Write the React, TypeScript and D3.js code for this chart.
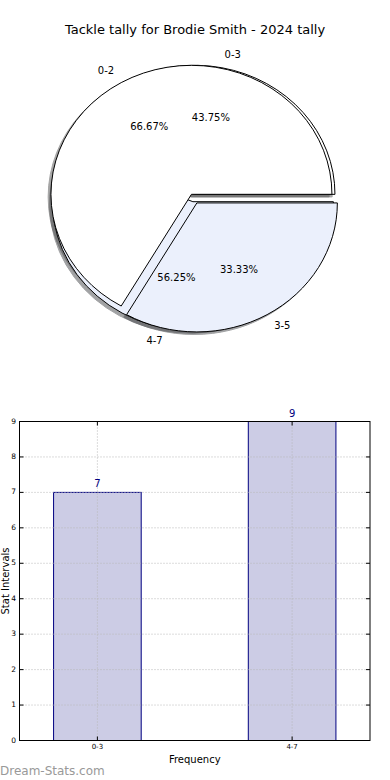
import React from "react";
import * as d3 from "d3";

const title = "Tackle tally for Brodie Smith - 2024 tally";
const pieALabels = ["0-2", "3-5"];
const pieAValues = [66.67, 33.33];
const pieBLabels = ["0-3", "4-7"];
const pieBValues = [43.75, 56.25];
const barCategories = ["0-3", "4-7"];
const barValues = [7, 9];
const yTickValues = [0, 1, 2, 3, 4, 5, 6, 7, 8, 9];
const xAxisLabel = "Frequency";
const yAxisLabel = "Stat Intervals";
const watermark = "Dream-Stats.com";

const pieColors = ["#ffffff", "#ebf0fc"];
const shadowColors = ["#4d4d4d", "#46484c"];
const explodeA = [0.032, 0.045];
const explodeB = [0.028, 0.03];

const FONT = "DejaVu Sans, Liberation Sans, sans-serif";

const W = 390;
const H = 780;
const pieCx = 193.7;
const pieCy = 197.9;
const rx = 140.5;
const ry = 129;

type Wedge = {
  key: string;
  label: string;
  pct: string;
  path: string;
  cx: number;
  cy: number;
  lx: number;
  ly: number;
  anchor: string;
  px: number;
  py: number;
  fill: string;
  shadow: string;
};

function buildWedges(labels: string[], values: number[], explode: number[], tag: string): Wedge[] {
  const total = d3.sum(values);
  const pie = d3
    .pie<number>()
    .sort(null)
    .value((d) => d)
    .startAngle(Math.PI / 2)
    .endAngle(Math.PI / 2 - 2 * Math.PI);
  const arcs = pie(values);
  const arcGen = d3.arc<d3.PieArcDatum<number>>().innerRadius(0).outerRadius(1);
  return arcs.map((a, i) => {
    const mid = (a.startAngle + a.endAngle) / 2;
    const dx = Math.sin(mid);
    const dy = -Math.cos(mid);
    const cx = pieCx + explode[i] * rx * dx;
    const cy = pieCy + explode[i] * ry * dy;
    return {
      key: tag + i,
      label: labels[i],
      pct: ((values[i] / total) * 100).toFixed(2) + "%",
      path: arcGen(a) || "",
      cx,
      cy,
      lx: cx + 1.1 * rx * dx,
      ly: cy + 1.1 * ry * dy,
      anchor: dx > 0 ? "start" : "end",
      px: cx + 0.6 * rx * dx,
      py: cy + 0.6 * ry * dy,
      fill: pieColors[i % pieColors.length],
      shadow: shadowColors[i % shadowColors.length],
    };
  });
}

export default function App() {
  const wedgesB = buildWedges(pieBLabels, pieBValues, explodeB, "b");
  const wedgesA = buildWedges(pieALabels, pieAValues, explodeA, "a");
  const all = [...wedgesB, ...wedgesA];

  // bar chart
  const left = 19.5;
  const right = 370;
  const top = 421.5;
  const bottom = 740.5;
  const x = d3.scaleLinear().domain([-0.4, 1.4]).range([left, right]);
  const y = d3.scaleLinear().domain([0, 9]).range([bottom, top]);
  const barW = 0.45;

  return (
    <svg
      width={W}
      height={H}
      viewBox={`0 0 ${W} ${H}`}
      style={{ position: "absolute", left: 0, top: 0, background: "#fff" }}
      fontFamily={FONT}
    >
      <rect x={0} y={0} width={W} height={H} fill="#fff" />
      <text x={195} y={30} textAnchor="middle" dominantBaseline="middle" fontSize={13} fill="#000">
        {title}
      </text>

      {/* shadows */}
      {all.map((w) => (
        <path
          key={"s" + w.key}
          d={w.path}
          transform={`translate(${w.cx - 0.02 * rx},${w.cy + 0.02 * ry}) scale(${rx},${ry})`}
          fill={w.shadow}
          stroke={w.shadow}
          strokeWidth={1}
          vectorEffect="non-scaling-stroke"
          opacity={0.5}
        />
      ))}
      {/* wedges */}
      {all.map((w) => (
        <path
          key={"w" + w.key}
          d={w.path}
          transform={`translate(${w.cx},${w.cy}) scale(${rx},${ry})`}
          fill={w.fill}
          stroke="#000"
          strokeWidth={1}
          strokeLinejoin="miter"
          vectorEffect="non-scaling-stroke"
        />
      ))}
      {all.map((w) => (
        <g key={"t" + w.key} fontSize={10} fill="#000">
          <text x={w.lx} y={w.ly} textAnchor={w.anchor} dominantBaseline="middle">
            {w.label}
          </text>
          <text x={w.px} y={w.py} textAnchor="middle" dominantBaseline="middle">
            {w.pct}
          </text>
        </g>
      ))}

      {/* bars */}
      {barValues.map((v, i) => (
        <rect
          key={"bar" + i}
          x={x(i - barW / 2)}
          y={y(v)}
          width={x(i + barW / 2) - x(i - barW / 2)}
          height={y(0) - y(v)}
          fill="#ccccE5"
          stroke="#000080"
          strokeWidth={1}
        />
      ))}
      {/* grid */}
      {yTickValues.map((t) => (
        <line
          key={"gy" + t}
          x1={left}
          x2={right}
          y1={y(t)}
          y2={y(t)}
          stroke="#b8b8b8"
          strokeWidth={1}
          strokeDasharray="1,2"
        />
      ))}
      {barCategories.map((c, i) => (
        <line
          key={"gx" + c}
          x1={x(i)}
          x2={x(i)}
          y1={top}
          y2={bottom}
          stroke="#b8b8b8"
          strokeWidth={1}
          strokeDasharray="1,2"
        />
      ))}
      {/* value labels */}
      {barValues.map((v, i) => (
        <text key={"vl" + i} x={x(i)} y={y(v) - 5} textAnchor="middle" fontSize={10} fill="#000080">
          {v}
        </text>
      ))}
      {/* frame */}
      <rect x={left} y={top} width={right - left} height={bottom - top} fill="none" stroke="#000" strokeWidth={1} />
      {/* ticks */}
      {yTickValues.map((t) => (
        <g key={"ty" + t}>
          <line x1={left} x2={left + 4} y1={y(t)} y2={y(t)} stroke="#000" />
          <line x1={right} x2={right - 4} y1={y(t)} y2={y(t)} stroke="#000" />
          <text x={16} y={y(t)} textAnchor="end" dominantBaseline="middle" fontSize={7.5} fill="#000">
            {t}
          </text>
        </g>
      ))}
      {barCategories.map((c, i) => (
        <g key={"tx" + c}>
          <line x1={x(i)} x2={x(i)} y1={bottom} y2={bottom - 4} stroke="#000" />
          <line x1={x(i)} x2={x(i)} y1={top} y2={top + 4} stroke="#000" />
          <text x={x(i)} y={bottom + 7} textAnchor="middle" dominantBaseline="middle" fontSize={7} fill="#000">
            {c}
          </text>
        </g>
      ))}
      <text x={(left + right) / 2} y={760} textAnchor="middle" dominantBaseline="middle" fontSize={10} fill="#000">
        {xAxisLabel}
      </text>
      <text
        transform={`translate(6,${(top + bottom) / 2}) rotate(-90)`}
        textAnchor="middle"
        dominantBaseline="middle"
        fontSize={10}
        fill="#000"
      >
        {yAxisLabel}
      </text>
      <text x={0} y={771} dominantBaseline="middle" fontSize={12} fill="#999999">
        {watermark}
      </text>
    </svg>
  );
}
